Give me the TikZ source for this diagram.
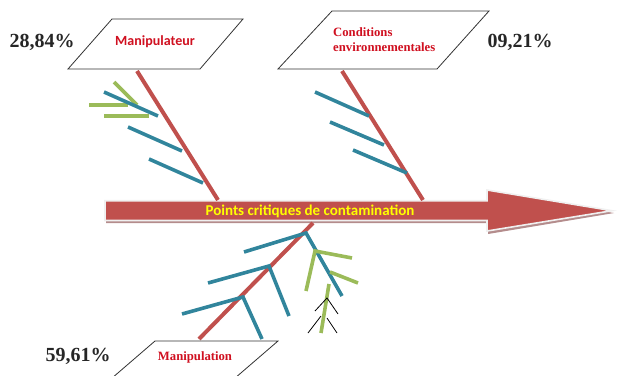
\documentclass[tikz,border=0pt]{standalone}
\usepackage{fontspec}
\setmainfont{Liberation Serif}
\newfontfamily\labelsans{Carlito}
\newfontfamily\labelserif{Liberation Serif}
\definecolor{bone}{HTML}{C0504D}
\definecolor{rib}{HTML}{31859C}
\definecolor{twig}{HTML}{9BBB59}
\definecolor{causetext}{HTML}{D01020}
\definecolor{headtext}{HTML}{FFFF00}
\definecolor{arrowshadow}{HTML}{B48C8C}
\tikzset{
  causebox/.style={draw=black!80, line width=0.8pt, fill=white},
  bonestroke/.style={draw=bone, line width=4pt},
  ribstroke/.style={draw=rib, line width=3.6pt},
  twigstroke/.style={draw=twig, line width=3.6pt},
  hairstroke/.style={draw=black, line width=0.8pt},
  pct/.style={font=\labelserif\fontsize{20}{22}\selectfont\bfseries, text=black!85, inner sep=0pt},
  sanscause/.style={font=\labelsans\fontsize{14}{16}\selectfont\bfseries, text=causetext, inner sep=0pt},
  serifcause/.style={font=\labelserif\fontsize{12.7}{15}\selectfont\bfseries, text=causetext, inner sep=0pt, align=left},
}
\begin{document}
\begin{tikzpicture}[x=1pt,y=-1pt]
\useasboundingbox (0,0) rectangle (626,375);
\clip (0,0) rectangle (626,375);

% ---- main arrow (spine) ----
\coordinate (tail) at (105,210.5);
\coordinate (tip) at (612,210.7);
\fill[arrowshadow] (106,203) -- (488,203) -- (488,193) -- (614,213) -- (488,234) -- (488,223) -- (106,223) -- cycle;
\filldraw[fill=bone, draw=black!6, line width=1.6pt]
  (105,200.7) -- (487,200.7) -- (487,190) -- (tip) -- (487,231) -- (487,220.5) -- (105,220.5) -- cycle;
\node[font=\labelsans\fontsize{15}{17}\selectfont\bfseries, text=headtext, inner sep=0pt] (spine) at (310,211) {Points critiques de contamination};

% ---- upper-left cause: Manipulateur ----
\draw[causebox] (112,19) -- (243,19) -- (200,69) -- (68,69) -- cycle;
\node[sanscause] (manipulateur) at (155,42) {Manipulateur};
\node[pct] (p1) at (42,42) {28,84\%};
\coordinate (b1s) at (137,71);
\coordinate (b1e) at (218,200);
\draw[bonestroke] (b1s) -- (b1e);
\coordinate (g1a) at (114,82);   \coordinate (g1b) at (137,105);
\coordinate (g2a) at (89,105);   \coordinate (g2b) at (128,105);
\coordinate (g3a) at (104,116);  \coordinate (g3b) at (149,116);
\draw[twigstroke] (g1a) -- (g1b);
\draw[twigstroke] (g2a) -- (g2b);
\coordinate (r1a) at (104,92);   \coordinate (r1b) at (158,116);
\coordinate (r2a) at (128,127);  \coordinate (r2b) at (182,151);
\coordinate (r3a) at (149,159);  \coordinate (r3b) at (203,183);
\draw[ribstroke] (r1a) -- (r1b);
\draw[twigstroke] (g3a) -- (g3b);
\draw[ribstroke] (r2a) -- (r2b);
\draw[ribstroke] (r3a) -- (r3b);

% ---- upper-right cause: Conditions environnementales ----
\draw[causebox] (332,11) -- (489,11) -- (437,69) -- (278,69) -- cycle;
\node[serifcause, anchor=west] (conditions) at (333,40) {Conditions\\environnementales};
\node[pct] (p2) at (520,42) {09,21\%};
\coordinate (b2s) at (342,71);
\coordinate (b2e) at (423,200);
\draw[bonestroke] (b2s) -- (b2e);
\coordinate (r4a) at (315,92);   \coordinate (r4b) at (369,116);
\coordinate (r5a) at (330,122);  \coordinate (r5b) at (384,145);
\coordinate (r6a) at (353,150);  \coordinate (r6b) at (407,173);
\draw[ribstroke] (r4a) -- (r4b);
\draw[ribstroke] (r5a) -- (r5b);
\draw[ribstroke] (r6a) -- (r6b);

% ---- lower cause: Manipulation ----
\coordinate (b3s) at (313,223);
\coordinate (b3e) at (199,339);
\coordinate (j1) at (306,233);
\coordinate (j2) at (269,266);
\coordinate (j3) at (243,297);
\draw[bonestroke] (b3s) -- (b3e);
\coordinate (r7a) at (244,252);  \coordinate (r7b) at (342,296);
\coordinate (r8a) at (208,283);  \coordinate (r8b) at (289,316);
\coordinate (r9a) at (182,314);  \coordinate (r9b) at (262,339);
\draw[ribstroke] (r7a) -- (j1) -- (r7b);
\draw[ribstroke] (r8a) -- (j2) -- (r8b);
\draw[ribstroke] (r9a) -- (j3) -- (r9b);
\coordinate (k1) at (315,251);
\coordinate (g4a) at (306,291);  \coordinate (g4b) at (352,258);
\coordinate (g5a) at (330,272);  \coordinate (g5b) at (358,283);
\coordinate (g6a) at (329,284);  \coordinate (g6b) at (321,333);
\draw[twigstroke] (g4a) -- (k1) -- (g4b);
\draw[twigstroke] (g5a) -- (g5b);
\draw[twigstroke] (g6a) -- (g6b);
\coordinate (h1a) at (315,311);  \coordinate (h1t) at (327,298);  \coordinate (h1b) at (338,314);
\coordinate (h2a) at (308,333);  \coordinate (h2t) at (321,316);  \coordinate (h2c) at (327,318);  \coordinate (h2b) at (337,333);
\draw[hairstroke] (h1a) -- (h1t) -- (h1b);
\draw[hairstroke] (h2a) -- (h2t);
\draw[hairstroke] (h2c) -- (h2b);
\draw[causebox] (155,341) -- (278,341) -- (220,391) -- (97,391) -- cycle;
\node[serifcause] (manipulation) at (195,357) {Manipulation};
\node[pct] (p3) at (78,356) {59,61\%};
\end{tikzpicture}
\end{document}
